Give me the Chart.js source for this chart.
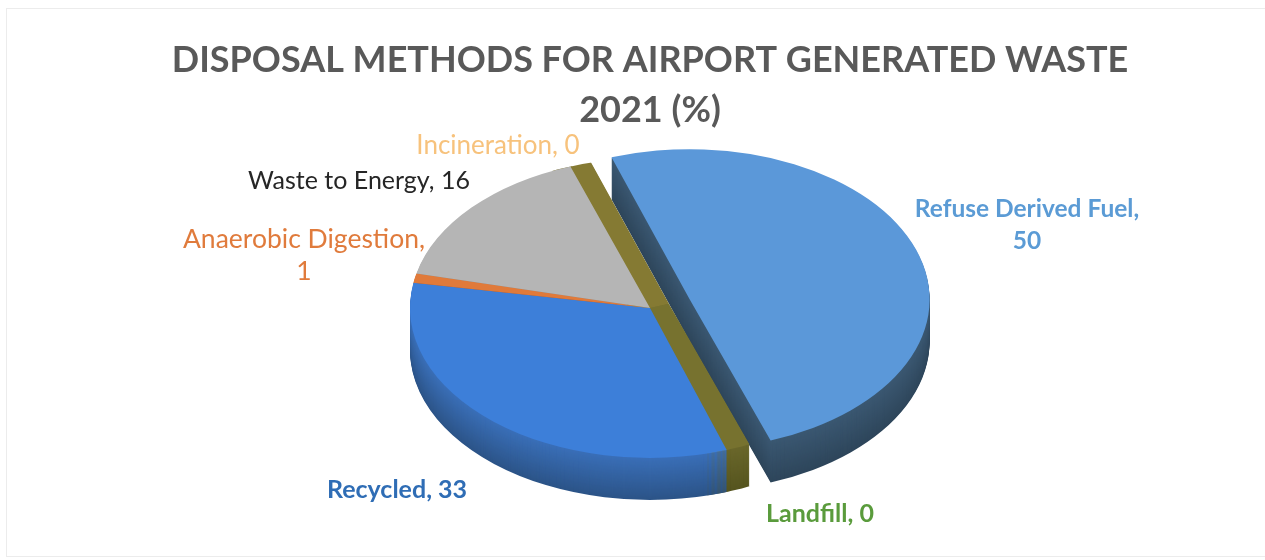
<!DOCTYPE html>
<html>
<head>
<meta charset="utf-8">
<script src="https://cdn.jsdelivr.net/npm/chart.js@4.4.1/dist/chart.umd.min.js"></script>
<style>
  html, body { margin: 0; padding: 0; background: #fff; }
  canvas { display: block; }
</style>
</head>
<body>
<canvas id="grafico" width="1265" height="560"></canvas>
<script>
// dados do grafico
var categorias = ['Refuse Derived Fuel', 'Landfill', 'Recycled', 'Anaerobic Digestion', 'Waste to Energy', 'Incineration'];
var valores = [50, 0.3, 33, 1, 16, 0.1];
var titulo = ['DISPOSAL METHODS FOR AIRPORT GENERATED WASTE', '2021 (%)'];

// cores (topo e lateral de cada fatia)
var corTopo = ['#5b98d9', '#77722f', '#3d7fd9', '#e07a3a', '#b5b5b5', '#857a33'];
var corLadoCima = ['#3b5872', '#6a672b', '#3a6fb8', '#a8572a', '#8a8782', '#6a672b'];
var corLadoBaixo = ['#2e465b', '#56551f', '#2c5488', '#7a3e1e', '#5e5b55', '#56551f'];
var corRotulo = ['#5b9bd5', '#5a9b3c', '#2f6db5', '#e07b3c', '#262626', '#f7c27c'];
var pesoRotulo = ['bold', 'bold', 'bold', 'normal', 'normal', 'normal'];
var tamanhoRotulo = [24.5, 25, 25, 26.5, 25, 26];
var posRotulo = [[1027, 225], [820, 514], [397, 490], [304, 255], [359, 181], [498, 146]];
var deslocamento = [42, 0, 0, 0, 0, 0];

var profundidade = 42;
var achatamento = 0.625;
var ordem = [0, 1, 5, 2, 3, 4];

function misturar(a, b, t) {
  var ca = parseInt(a.slice(1), 16)
  var cb = parseInt(b.slice(1), 16)
  var r = Math.round(((ca >> 16) & 255) * (1 - t) + ((cb >> 16) & 255) * t)
  var g = Math.round(((ca >> 8) & 255) * (1 - t) + ((cb >> 8) & 255) * t)
  var bl = Math.round((ca & 255) * (1 - t) + (cb & 255) * t)
  return 'rgb(' + r + ',' + g + ',' + bl + ')'
}

function desenharFatia(ctx, arco, i, cor, dy) {
  var copia = Object.create(arco)
  copia.options = Object.assign({}, arco.options, { backgroundColor: cor, borderColor: cor })
  var meio = (arco.startAngle + arco.endAngle) / 2
  ctx.save()
  ctx.translate(0, dy)
  ctx.translate(arco.x, arco.y)
  ctx.scale(1, achatamento)
  ctx.translate(-arco.x, -arco.y)
  if (arco.options.borderWidth > 0) {
    // fatias finas: a borda grossa fica presa dentro do disco
    ctx.beginPath()
    ctx.arc(arco.x, arco.y, arco.outerRadius, 0, Math.PI * 2)
    ctx.clip()
  }
  ctx.translate(Math.cos(meio) * deslocamento[i], Math.sin(meio) * deslocamento[i])
  copia.draw(ctx)
  ctx.restore()
}

var pizza3d = {
  id: 'pizza3d',
  beforeDatasetsDraw: function (chart) {
    var ctx = chart.ctx
    var arcos = chart.getDatasetMeta(0).data

    // laterais, de baixo pra cima
    for (var d = profundidade; d > 0; d--) {
      ordem.forEach(function (i) {
        desenharFatia(ctx, arcos[i], i, misturar(corLadoCima[i], corLadoBaixo[i], d / profundidade), d)
      })
    }
    // topo
    ordem.forEach(function (i) {
      desenharFatia(ctx, arcos[i], i, corTopo[i], 0)
    })
    return false
  },
  afterDraw: function (chart) {
    var ctx = chart.ctx
    ctx.save()
    ctx.textAlign = 'center'
    ctx.textBaseline = 'middle'
    categorias.forEach(function (cat, i) {
      var valor = String(Math.round(valores[i]))
      var linhas = cat.length > 16 ? [cat + ',', valor] : [cat + ', ' + valor]
      ctx.font = pesoRotulo[i] + ' ' + tamanhoRotulo[i] + 'px Lato'
      ctx.fillStyle = corRotulo[i]
      var y0 = posRotulo[i][1] - (linhas.length - 1) * 32 / 2
      linhas.forEach(function (l, j) {
        ctx.fillText(l, posRotulo[i][0], y0 + j * 32)
      })
    })
    // moldura clarinha
    ctx.strokeStyle = '#ececec'
    ctx.lineWidth = 1
    ctx.strokeRect(6.5, 8.5, 1262, 548)
    ctx.restore()
  }
}

function criarGrafico() {
  new Chart(document.getElementById('grafico'), {
    type: 'pie',
    data: {
      labels: categorias,
      datasets: [{
        data: valores,
        backgroundColor: corTopo,
        borderColor: corTopo,
        borderWidth: [0, 40, 0, 0, 0, 40],
        borderJoinStyle: 'bevel',
        clip: false
      }]
    },
    options: {
      responsive: false,
      animation: false,
      rotation: -19,
      radius: 240,
      layout: { padding: { left: 35, right: 0, top: 0, bottom: 80 } },
      plugins: {
        legend: { display: false },
        tooltip: { enabled: false },
        title: {
          display: true,
          text: titulo,
          color: '#595959',
          font: { family: 'Lato', size: 36, weight: 'bold', lineHeight: 1.4 },
          padding: { top: 35, bottom: 0 }
        }
      }
    },
    plugins: [pizza3d]
  })
}

Promise.all([
  document.fonts.load('bold 36px Lato'),
  document.fonts.load('24px Lato')
]).then(criarGrafico).catch(criarGrafico)
</script>
</body>
</html>
